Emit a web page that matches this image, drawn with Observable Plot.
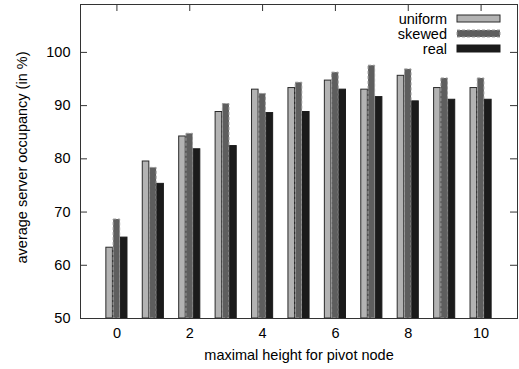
<!DOCTYPE html>
<html>
<head>
<meta charset="utf-8">
<script src="https://cdn.jsdelivr.net/npm/d3@7"></script>
<script src="https://cdn.jsdelivr.net/npm/@observablehq/plot@0.6"></script>
<style>
  html, body { margin: 0; padding: 0; background: #fff; }
  svg { display: block; }
</style>
</head>
<body>
<div id="chart"></div>
<script>
const heights = [0, 1, 2, 3, 4, 5, 6, 7, 8, 9, 10];
const seriesNames = ["uniform", "skewed", "real"];
const uniform = [63.3, 79.5, 84.2, 88.8, 93.0, 93.3, 94.7, 93.0, 95.6, 93.3, 93.3];
const skewed  = [68.6, 78.3, 84.7, 90.3, 92.2, 94.3, 96.2, 97.5, 96.8, 95.1, 95.1];
const real    = [65.2, 75.3, 81.8, 82.4, 88.6, 88.8, 93.0, 91.6, 90.8, 91.1, 91.1];
const xTicks = [0, 2, 4, 6, 8, 10];
const yTicks = [50, 60, 70, 80, 90, 100];
const xLabel = "maximal height for pivot node";
const yLabel = "average server occupancy (in %)";

const seriesValues = [uniform, skewed, real];
const fills = ["#b3b3b3", "#5e5e5e", "#1b1b1b"];
const strokes = ["#2a2a2a", "#9a9a9a", "#1b1b1b"];
const dashes = [null, "3,2", null];

const W = 519, H = 369;
const mL = 80, mR = 2, mT = 4, mB = 51;
const pw = W - mL - mR, ph = H - mT - mB;
const step = 0.2, bw = 0.18;

const rows = [];
seriesNames.forEach((s, si) => {
  heights.forEach((h, i) => {
    rows.push({series: s, si, h, v: seriesValues[si][i]});
  });
});

const font = "Liberation Sans, Arial, Helvetica, sans-serif";
const fs = 14.5;

const barMarks = seriesNames.map((s, si) =>
  Plot.rectY(rows.filter(d => d.si === si), {
    x1: d => d.h + (d.si - 1) * step - bw / 2,
    x2: d => d.h + (d.si - 1) * step + bw / 2,
    y1: 50,
    y2: d => d.v,
    fill: fills[si],
    stroke: strokes[si],
    strokeWidth: 1,
    strokeDasharray: dashes[si]
  })
);

const chart = Plot.plot({
  width: W,
  height: H,
  marginLeft: mL,
  marginRight: mR,
  marginTop: mT,
  marginBottom: mB,
  style: {fontFamily: font, fontSize: fs + "px", color: "#000", background: "#fff"},
  x: {type: "linear", domain: [-1, 11]},
  y: {domain: [50, 109]},
  marks: [
    Plot.tickY(yTicks, {y: d => d, insetRight: pw - 7, stroke: "#333"}),
    Plot.tickY(yTicks, {y: d => d, insetLeft: pw - 7, stroke: "#333"}),
    Plot.tickX(xTicks, {x: d => d, insetBottom: ph - 7, stroke: "#333"}),
    Plot.tickX(xTicks, {x: d => d, insetTop: ph - 7, stroke: "#333"}),
    ...barMarks,
    Plot.frame({stroke: "#333", strokeWidth: 1}),
    Plot.axisY(yTicks, {tickSize: 0, tickPadding: 10, label: null, fontSize: fs}),
    Plot.axisX(xTicks, {tickSize: 0, tickPadding: 9, label: null, fontSize: fs}),
    Plot.text([xLabel], {text: d => d, frameAnchor: "bottom", dy: 41, fontSize: fs}),
    Plot.text([yLabel], {text: d => d, frameAnchor: "left", textAnchor: "middle", rotate: -90, dx: -58, dy: -4, fontSize: fs})
  ]
});

const svg = d3.select(chart);
const leg = svg.append("g").attr("font-family", font).attr("font-size", fs);
seriesNames.forEach((s, i) => {
  const cy = 18.5 + i * 15;
  leg.append("text").attr("x", 447).attr("y", cy).attr("dy", "0.35em")
    .attr("text-anchor", "end").attr("fill", "#000").text(s);
  leg.append("rect").attr("x", 457).attr("y", cy - 3.5).attr("width", 43).attr("height", 7)
    .attr("fill", fills[i]).attr("stroke", strokes[i])
    .attr("stroke-dasharray", dashes[i]);
});

document.getElementById("chart").appendChild(chart);
</script>
</body>
</html>
